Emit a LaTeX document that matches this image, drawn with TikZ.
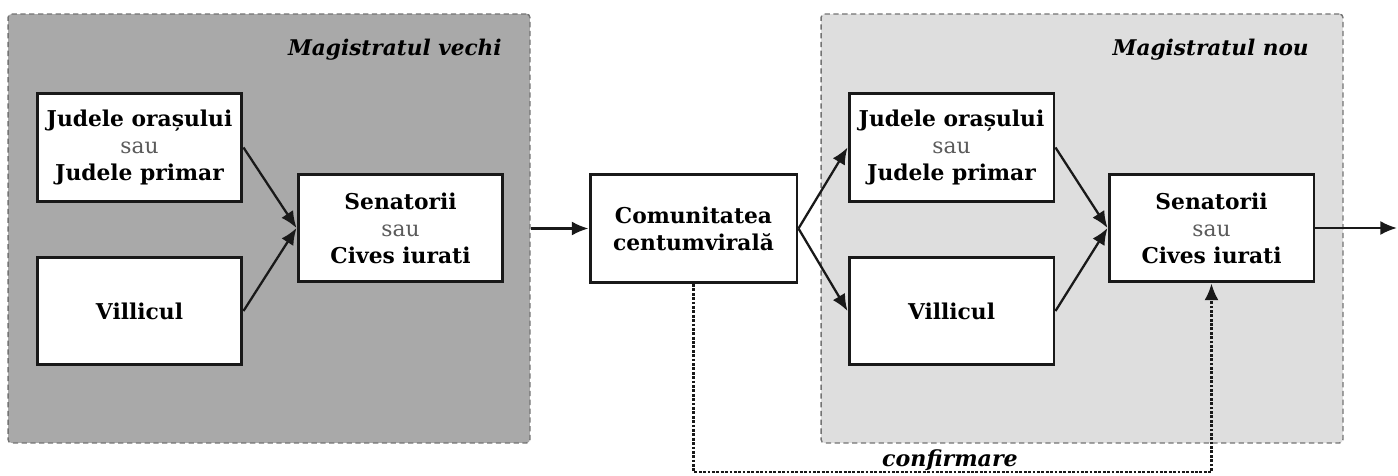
\documentclass[tikz,border=0pt]{standalone}
\usepackage{fontspec}
\setmainfont{DejaVu Serif}
\usetikzlibrary{arrows.meta}
\pgfdeclarelayer{panellayer}
\pgfdeclarelayer{edgelayer}
\pgfdeclarelayer{nodelayer}
\pgfsetlayers{panellayer,edgelayer,nodelayer,main}
\definecolor{oldgray}{RGB}{169,169,169}
\definecolor{newgray}{RGB}{222,222,222}
\definecolor{saugray}{RGB}{90,90,90}
\newcommand{\sautext}{{\mdseries\color{saugray}sau}}
\tikzstyle{panel}=[draw=black!55,line width=0.8pt,dash pattern=on 3pt off 2pt,rounded corners=2pt,minimum width=10.44cm,minimum height=8.58cm,inner sep=0pt]
\tikzstyle{paneltitle}=[font=\bfseries\itshape\fontsize{12.3}{14}\selectfont,anchor=east,inner sep=0pt]
\tikzstyle{office}=[draw=black!90,fill=white,line width=1.7pt,minimum width=4.1cm,minimum height=2.16cm,align=center,inner sep=0pt,font=\bfseries\fontsize{12.4}{15.4}\selectfont]
\tikzstyle{flow}=[-{Latex[length=9.5pt,width=8pt]},line width=1.3pt,draw=black!90]
\tikzstyle{confirm}=[-{Latex[length=9.5pt,width=8pt]},line width=1.4pt,draw=black!90,dash pattern=on 1.6pt off 0.9pt]

\begin{document}
\begin{tikzpicture}[x=0.02cm,y=-0.02cm]
	\useasboundingbox (0,0) rectangle (1398,476);
	\begin{pgfonlayer}{panellayer}
		\node [style=panel, fill=oldgray] (oldpanel) at (269, 228.5) {};
		\node [style=panel, fill=newgray] (newpanel) at (1082, 228.5) {};
	\end{pgfonlayer}
	\begin{pgfonlayer}{nodelayer}
		\node [style=paneltitle] (oldtitle) at (502, 50) {Magistratul vechi};
		\node [style=paneltitle] (newtitle) at (1309, 50) {Magistratul nou};
		\node [style=office] (oldjude) at (139.5, 147.5) {Judele orașului\\\sautext\\Judele primar};
		\node [style=office] (oldvill) at (139.5, 311) {Villicul};
		\node [style=office] (oldsen) at (400.5, 228) {Senatorii\\\sautext\\Cives iurati};
		\node [style=office, minimum width=4.14cm] (comun) at (693.5, 228.5) {Comunitatea\\centumvirală};
		\node [style=office] (newjude) at (951.5, 147.5) {Judele orașului\\\sautext\\Judele primar};
		\node [style=office] (newvill) at (951.5, 311) {Villicul};
		\node [style=office] (newsen) at (1211.5, 228) {Senatorii\\\sautext\\Cives iurati};
		\node [font=\bfseries\itshape\fontsize{12.6}{14}\selectfont, inner sep=0pt] (conflabel) at (950, 460) {confirmare};
		\coordinate (exit) at (1397, 228);
		\coordinate (low) at (693.5, 472);
	\end{pgfonlayer}
	\begin{pgfonlayer}{edgelayer}
		\draw [style=flow] (oldjude.east) to (oldsen.west);
		\draw [style=flow] (oldvill.east) to (oldsen.west);
		\draw [style=flow] (oldpanel.east |- comun.west) to (comun.west);
		\draw [style=flow] (comun.east) to (newjude.west);
		\draw [style=flow] (comun.east) to (newvill.west);
		\draw [style=flow] (newjude.east) to (newsen.west);
		\draw [style=flow] (newvill.east) to (newsen.west);
		\draw [style=flow] (newsen.east) to (exit);
		\draw [style=confirm] (comun.south) -- (low) -| (newsen.south);
	\end{pgfonlayer}
\end{tikzpicture}
\end{document}
